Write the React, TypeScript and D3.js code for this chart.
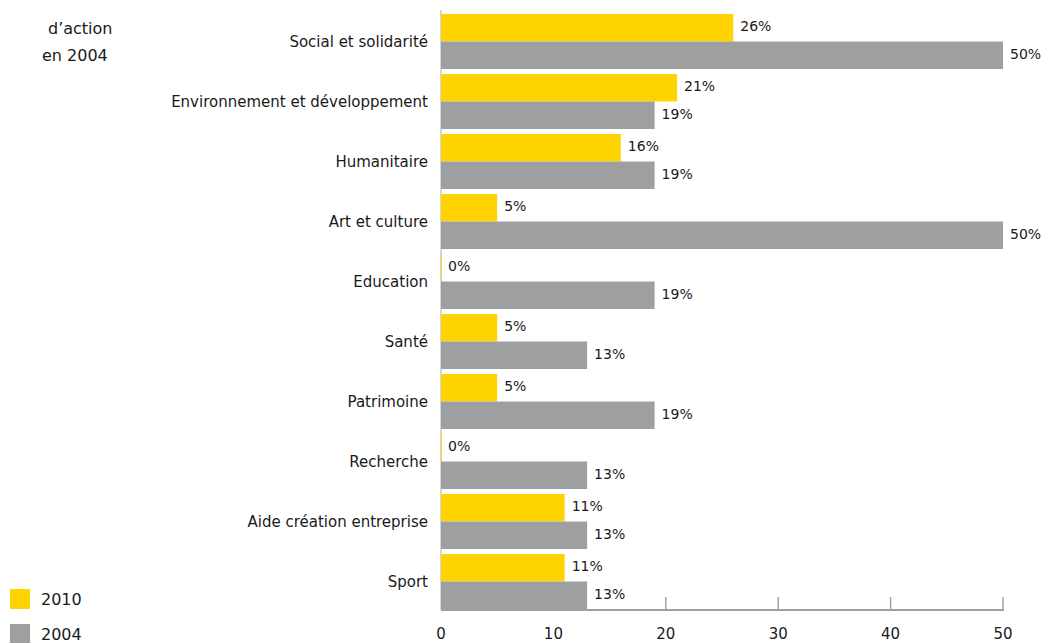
import * as d3 from 'd3';

const categories = [
  'Social et solidarité',
  'Environnement et développement',
  'Humanitaire',
  'Art et culture',
  'Education',
  'Santé',
  'Patrimoine',
  'Recherche',
  'Aide création entreprise',
  'Sport',
];
const values2010 = [26, 21, 16, 5, 0, 5, 5, 0, 11, 11];
const values2004 = [50, 19, 19, 50, 19, 13, 19, 13, 13, 13];
const xTicks = [0, 10, 20, 30, 40, 50];
const seriesNames = ['2010', '2004'];

const W = 1045;
const H = 643;
const YELLOW = '#FFD300';
const GREY = '#9E9FA1';
const INK = '#1a1a1a';
const FONT = '"DejaVu Sans", sans-serif';

export default function App() {
  const x = d3.scaleLinear().domain([0, 50]).range([441, 1003]);
  const y = d3.scaleBand<string>().domain(categories).range([14, 609]).paddingInner(5 / 60);
  const inner = d3.scaleBand<string>().domain(seriesNames).range([0, y.bandwidth()]);
  const axisY = 610;

  const rows = categories.map((c, i) => ({ c, a: values2010[i], b: values2004[i] }));

  return (
    <div style={{ position: 'absolute', left: 0, top: 0 }}>
      <svg width={W} height={H} style={{ display: 'block', fontFamily: FONT }}>
        <rect width={W} height={H} fill="#fff" />

        {/* title, cut off at the left edge in the source */}
        <text x={48} y={28} dy="0.35em" fontSize={16} fill={INK}>d’action</text>
        <text x={42} y={55} dy="0.35em" fontSize={16} fill={INK}>en 2004</text>

        {/* left axis line */}
        <line x1={x(0)} x2={x(0)} y1={10} y2={axisY} stroke="#c8c8c8" strokeWidth={1.5} />

        {rows.map((r) => {
          const y0 = y(r.c) ?? 0;
          const ya = y0 + (inner('2010') ?? 0);
          const yb = y0 + (inner('2004') ?? 0);
          const h = inner.bandwidth();
          return (
            <g key={r.c}>
              <rect x={x(0)} y={ya} width={Math.max(x(r.a) - x(0), 0.8)} height={h} fill={YELLOW} />
              <rect x={x(0)} y={yb} width={x(r.b) - x(0)} height={h} fill={GREY} />
              <text x={x(r.a) + 7} y={ya + h / 2 - 2} dy="0.35em" fontSize={14} fill={INK}>{r.a}%</text>
              <text x={x(r.b) + 7} y={yb + h / 2 - 1} dy="0.35em" fontSize={14} fill={INK}>{r.b}%</text>
              <text x={428} y={y0 + y.bandwidth() / 2} dy="0.35em" textAnchor="end" fontSize={15} fill={INK}>{r.c}</text>
            </g>
          );
        })}

        {/* bottom axis */}
        <line x1={x(0)} x2={x(50) + 1} y1={axisY} y2={axisY} stroke="#a0a0a0" strokeWidth={2} />
        {xTicks.map((t) => (
          <g key={t}>
            {t > 0 && <line x1={x(t)} x2={x(t)} y1={axisY - 13} y2={axisY} stroke="#a0a0a0" strokeWidth={1.5} />}
            <text x={x(t)} y={634} dy="0.35em" textAnchor="middle" fontSize={15} fill={INK}>{t}</text>
          </g>
        ))}

        {/* legend */}
        {seriesNames.map((s, i) => (
          <g key={s} transform={`translate(10,${589 + i * 35})`}>
            <rect width={20} height={20} fill={i === 0 ? YELLOW : GREY} />
            <text x={31} y={10} dy="0.35em" fontSize={16} fill={INK}>{s}</text>
          </g>
        ))}
      </svg>
    </div>
  );
}
